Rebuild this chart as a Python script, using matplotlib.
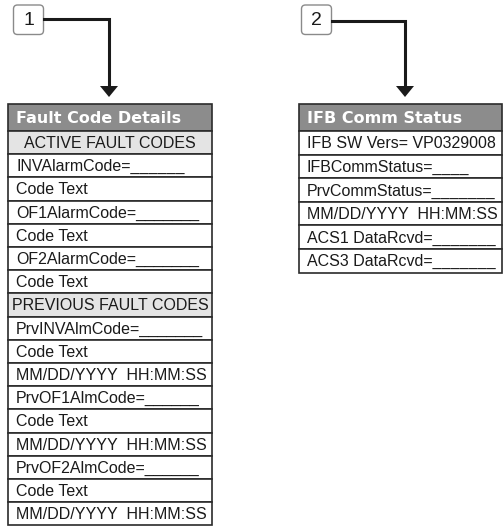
import matplotlib.pyplot as plt
from matplotlib.patches import FancyBboxPatch, Rectangle, Polygon

# table contents
left_title = "Fault Code Details"
left_rows = ["ACTIVE FAULT CODES", "INVAlarmCode=______", "Code Text",
             "OF1AlarmCode=_______", "Code Text", "OF2AlarmCode=_______",
             "Code Text", "PREVIOUS FAULT CODES", "PrvINVAlmCode=_______",
             "Code Text", "MM/DD/YYYY  HH:MM:SS", "PrvOF1AlmCode=______",
             "Code Text", "MM/DD/YYYY  HH:MM:SS", "PrvOF2AlmCode=______",
             "Code Text", "MM/DD/YYYY  HH:MM:SS"]
left_sections = ["ACTIVE FAULT CODES", "PREVIOUS FAULT CODES"]

right_title = "IFB Comm Status"
right_rows = ["IFB SW Vers= VP0329008", "IFBCommStatus=____",
              "PrvCommStatus=_______", "MM/DD/YYYY  HH:MM:SS",
              "ACS1 DataRcvd=_______", "ACS3 DataRcvd=_______"]

callouts = ["1", "2"]

W, H = 504, 527
fig = plt.figure(figsize=(W / 100, H / 100), dpi=100)
ax = fig.add_axes([0, 0, 1, 1])
ax.set_xlim(0, W)
ax.set_ylim(H, 0)
ax.axis("off")

FONT = "Liberation Sans"
edge = "#2b2b2b"
row_h = 23.2
head_top, head_h = 104, 27


def draw_table(x0, x1, title, rows, sections, rh):
    ax.add_patch(Rectangle((x0, head_top), x1 - x0, head_h, facecolor="#8c8c8c",
                           edgecolor=edge, lw=1.2))
    ax.text(x0 + 8, head_top + head_h / 2 + 1, title, color="white", fontsize=11.5,
            fontweight="heavy", family="DejaVu Sans", va="center", ha="left")
    y = head_top + head_h
    for r in rows:
        sec = r in sections
        ax.add_patch(Rectangle((x0, y), x1 - x0, rh,
                               facecolor="#e4e4e4" if sec else "white",
                               edgecolor=edge, lw=1.2))
        if sec:
            ax.text((x0 + x1) / 2, y + rh / 2 + 1, r, fontsize=11.5, family=FONT,
                    color="#1a1a1a", va="center", ha="center")
        else:
            ax.text(x0 + 8, y + rh / 2 + 1, r, fontsize=11.5, family=FONT,
                    color="#1a1a1a", va="center", ha="left")
        y += rh


def draw_callout(label, bx, line_y, vx):
    ax.add_patch(FancyBboxPatch((bx, 5), 30, 29.5, boxstyle="round,pad=0,rounding_size=4",
                                facecolor="white", edgecolor="#8a8a8a", lw=1.0))
    ax.text(bx + 15, 20.5, label, fontsize=14, family=FONT, ha="center", va="center",
            color="#1a1a1a")
    ax.plot([bx + 30, vx, vx], [line_y, line_y, 88], color="#1a1a1a", lw=2.2,
            solid_joinstyle="miter")
    ax.add_patch(Polygon([[vx - 9, 86], [vx + 9, 86], [vx, 97]], closed=True,
                         facecolor="#1a1a1a", edgecolor="none"))


draw_table(8, 212, left_title, left_rows, left_sections, row_h)
draw_table(299, 502, right_title, right_rows, [], 23.6)
draw_callout(callouts[0], 13.5, 19, 109)
draw_callout(callouts[1], 301.5, 20.5, 405)

fig.savefig("out.png", dpi=100)
